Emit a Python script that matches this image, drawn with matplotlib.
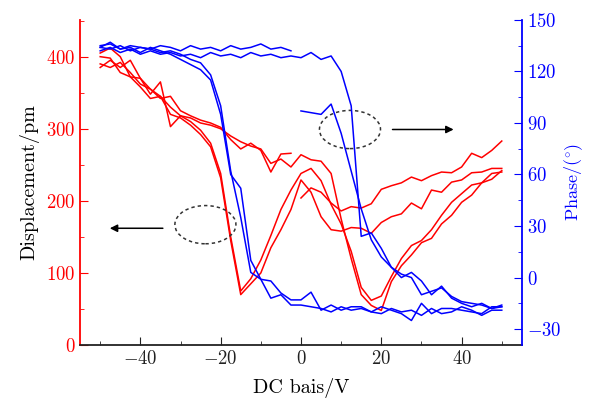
import numpy as np
import matplotlib
matplotlib.use('Agg')
import matplotlib.pyplot as plt
from matplotlib.patches import Ellipse
from matplotlib.ticker import MultipleLocator

# computer-modern look
plt.rcParams['font.family'] = 'serif'
plt.rcParams['font.serif'] = ['cmr10']
plt.rcParams['mathtext.fontset'] = 'cm'
plt.rcParams['axes.formatter.use_mathtext'] = True
plt.rcParams['font.size'] = 13.5

# bias sweep grid (V)
bias = np.arange(-50, 52.5, 2.5)
bias_half = bias[:20]      # -50 ... -2.5
bias_right = bias[20:]     # 0 ... 50

# displacement loops (pm)
disp_1 = [385, 395, 385, 395, 370, 355, 342, 345, 325, 318, 312, 308, 302, 285, 272, 280, 270, 240, 265, 266]
disp_2 = [400, 398, 378, 372, 358, 342, 345, 330, 318, 315, 308, 305, 300, 290, 282, 276, 272, 252, 258, 247,
          264, 257, 255, 238, 175, 120, 70, 55, 48, 88, 110, 125, 142, 148, 168, 180, 198, 208, 225, 230, 242]
disp_3 = [405, 412, 400, 372, 370, 348, 365, 303, 318, 310, 298, 280, 238, 150, 75, 92, 118, 152, 188, 215,
          238, 245, 228, 195, 168, 130, 80, 62, 68, 95, 120, 138, 145, 160, 180, 198, 210, 222, 225, 238, 240]
disp_4 = [390, 385, 392, 378, 362, 355, 345, 320, 315, 305, 292, 275, 232, 145, 70, 85, 100, 135, 160, 188,
          229, 212, 178, 160, 158, 163, 162, 155, 170, 178, 182, 197, 189, 215, 212, 226, 229, 239, 240, 245, 245]
disp_5 = [204, 218, 212, 197, 186, 192, 190, 196, 216, 221, 225, 233, 228, 235, 240, 239, 247, 266, 260, 270, 283]

# phase loops (deg)
phase_1 = [134, 137, 133, 135, 134, 133, 135, 134, 132, 135, 133, 134, 132, 135, 133, 134, 136, 133, 134, 132]
phase_2 = [132, 134, 131, 133, 130, 132, 130, 131, 129, 130, 128, 131, 129, 130, 128, 131, 129, 130, 128, 129,
           128, 131, 127, 129, 120, 100, 24, 26, 17, 6, 2, 0, -10, -8, -6, -11, -14, -15, -16, -18, -16]
phase_3 = [134, 133, 135, 132, 134, 133, 131, 132, 130, 127, 125, 118, 100, 62, 35, 3, -1, -2, -9, -13,
           -13, -8.5, -19, -16, -19, -17, -17, -20, -17, -19, -21, -25, -15, -21, -18, -18, -19, -20, -21, -17, -17]
phase_4 = [97, 96, 95, 101, 84, 62, 40, 22, 12, 6, 0, 3, -2, -10, -5, -12, -15, -17, -15, -18, -17]
phase_5 = [135, 136, 133, 134, 131, 134, 132, 130, 127, 124, 121, 115, 95, 60, 52, 10, -1, -12, -10, -16,
           -16, -17, -18, -20, -17, -19, -18, -20, -21, -18, -20, -19, -22, -18, -21, -20, -17, -19, -22, -19, -19]

red = '#ff0000'
blue = '#0000ff'

fig, ax = plt.subplots(figsize=(5.89, 3.98), dpi=100)
fig.subplots_adjust(left=0.136, right=0.886, bottom=0.133, top=0.95)
ax2 = ax.twinx()

lw = 1.1
ax.plot(bias_half, disp_1, color=red, lw=lw)
ax.plot(bias, disp_2, color=red, lw=lw)
ax.plot(bias, disp_3, color=red, lw=lw)
ax.plot(bias, disp_4, color=red, lw=lw)
ax.plot(bias_right, disp_5, color=red, lw=lw)

ax2.plot(bias_half, phase_1, color=blue, lw=lw)
ax2.plot(bias, phase_2, color=blue, lw=lw)
ax2.plot(bias, phase_3, color=blue, lw=lw)
ax2.plot(bias_right, phase_4, color=blue, lw=lw)
ax2.plot(bias, phase_5, color=blue, lw=lw)

# dashed ellipses + arrows pointing to the relevant axis
for cx, cy in [(-23.8, 167), (12.2, 299)]:
    ax2.add_patch(Ellipse((cx, cy), 15.2, 53, transform=ax.transData, fill=False,
                          ls=(0, (2.2, 2)), lw=1.1, color='#333333'))
ax2.annotate('', xy=(-48.3, 162), xytext=(-33.7, 162), xycoords=ax.transData, textcoords=ax.transData,
             arrowprops=dict(arrowstyle='-|>', color='k', lw=1.1, mutation_scale=11))
ax2.annotate('', xy=(38.7, 299), xytext=(22.1, 299), xycoords=ax.transData, textcoords=ax.transData,
             arrowprops=dict(arrowstyle='-|>', color='k', lw=1.1, mutation_scale=11))

ax.set_xlim(-55, 55)
ax.set_ylim(0, 451)
ax2.set_ylim(-39.3, 150)

ax.xaxis.set_major_locator(MultipleLocator(20))
ax.xaxis.set_minor_locator(MultipleLocator(10))
ax.yaxis.set_major_locator(MultipleLocator(100))
ax.yaxis.set_minor_locator(MultipleLocator(50))
ax2.yaxis.set_major_locator(MultipleLocator(30))
ax2.yaxis.set_minor_locator(MultipleLocator(15))

ax.tick_params(axis='both', which='both', direction='in', labelsize=13.5)
ax.tick_params(axis='x', which='major', length=6, colors='#222222', labelcolor='#222222')
ax.tick_params(axis='x', which='minor', length=3, colors='#222222')
ax.tick_params(axis='y', which='major', length=6, colors=red)
ax.tick_params(axis='y', which='minor', length=3, colors=red)
ax2.tick_params(axis='y', which='both', direction='in', colors=blue, labelsize=13.5)
ax2.tick_params(axis='y', which='major', length=6)
ax2.tick_params(axis='y', which='minor', length=3)

for a in (ax, ax2):
    a.spines['top'].set_visible(False)
ax.spines['right'].set_visible(False)
ax2.spines['left'].set_visible(False)
ax2.spines['bottom'].set_visible(False)
ax.spines['left'].set_color(red)
ax.spines['left'].set_linewidth(1.3)
ax2.spines['right'].set_color(blue)
ax2.spines['right'].set_linewidth(1.3)
ax.spines['bottom'].set_color('#222222')
ax.spines['bottom'].set_linewidth(1.3)

ax.set_xlabel('DC bais/V', labelpad=7, fontsize=14.5)
ax.set_ylabel('Displacement/pm', labelpad=5, fontsize=14.5)
ax2.set_ylabel(r'Phase/($^{\circ}$)', color=blue, labelpad=1, fontsize=13)

plt.savefig('out.png', dpi=100)
